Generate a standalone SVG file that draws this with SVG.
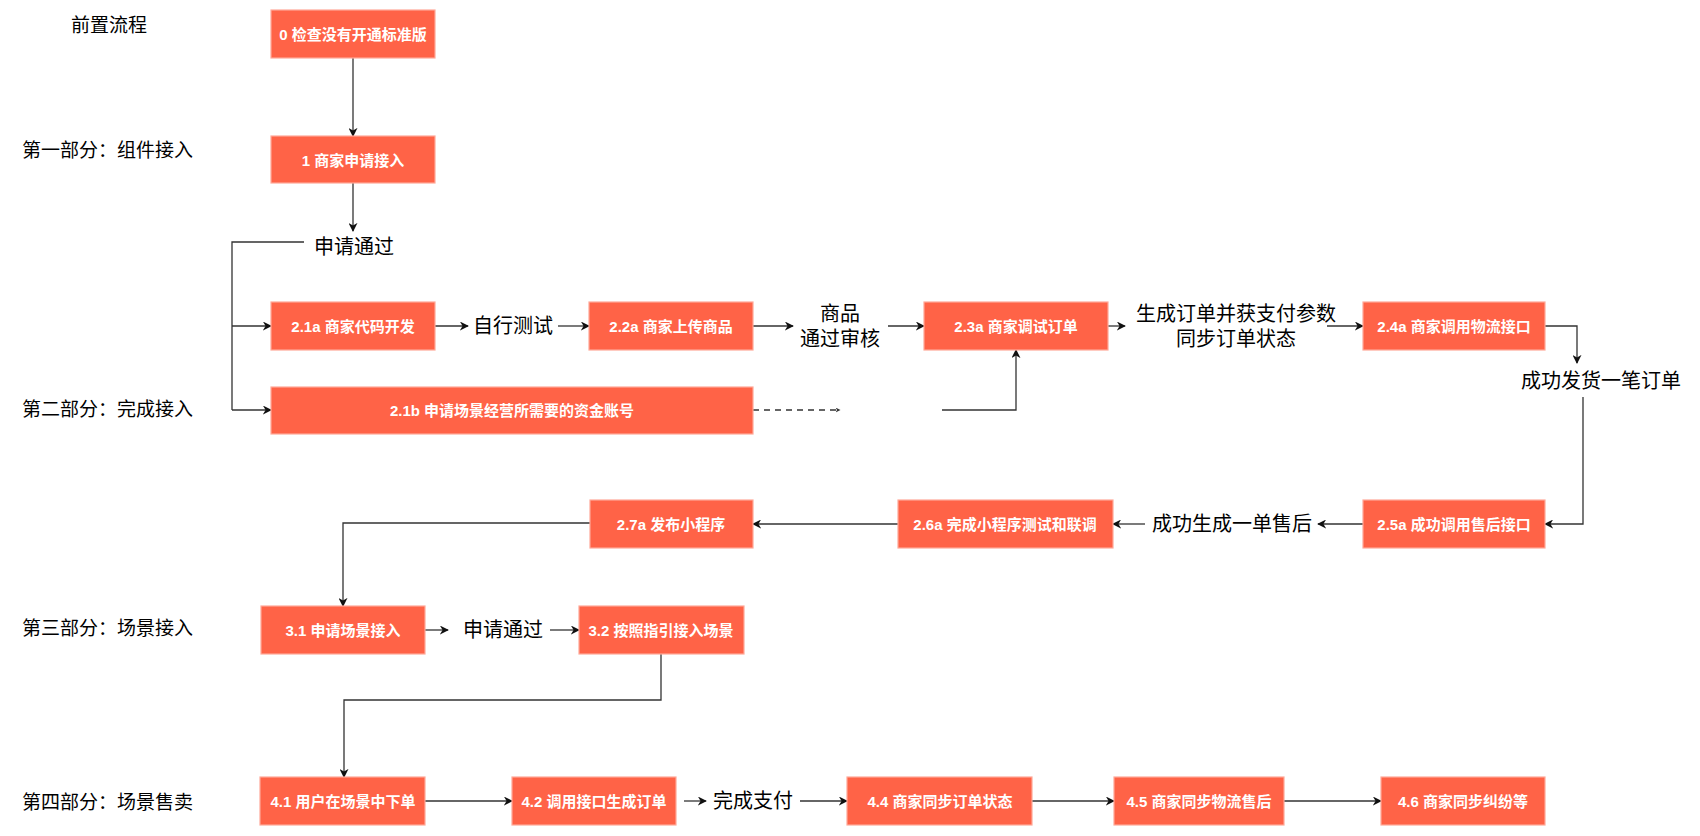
<svg xmlns="http://www.w3.org/2000/svg" width="1700" height="836" viewBox="0 0 1700 836">
<style>
.box{fill:#FF6347;stroke:#FFA898;stroke-width:1.2}
.bt{font-family:"Liberation Sans","Noto Sans CJK SC",sans-serif;font-size:15px;font-weight:bold;fill:#fff;text-anchor:middle;dominant-baseline:central}
.lt{font-family:"Liberation Sans","Noto Sans CJK SC",sans-serif;font-size:20px;fill:#000;text-anchor:middle;dominant-baseline:central}
.sec{font-family:"Liberation Sans","Noto Sans CJK SC",sans-serif;font-size:19px;fill:#000;dominant-baseline:central}
.c{fill:none;stroke:#333;stroke-width:1.3;marker-end:url(#ah)}
.cn{fill:none;stroke:#333;stroke-width:1.3}
.d{fill:none;stroke:#333;stroke-width:1.3;stroke-dasharray:6 5;marker-end:url(#sm)}
</style>
<defs>
<marker id="ah" viewBox="0 0 10 10" refX="9" refY="5" markerWidth="9" markerHeight="9" markerUnits="userSpaceOnUse" orient="auto">
<path d="M0,0 L10,5 L0,10 L3,5 z" fill="#111"/>
</marker>
<marker id="sm" viewBox="0 0 10 10" refX="9" refY="5" markerWidth="5" markerHeight="5" markerUnits="userSpaceOnUse" orient="auto">
<path d="M0,0 L10,5 L0,10 L3,5 z" fill="#333"/>
</marker>
</defs>
<rect width="1700" height="836" fill="#fff"/>

<g id="sections">
<text class="sec" x="109" y="25" text-anchor="middle">前置流程</text>
<text class="sec" x="22" y="150">第一部分：组件接入</text>
<text class="sec" x="22" y="409">第二部分：完成接入</text>
<text class="sec" x="22" y="628">第三部分：场景接入</text>
<text class="sec" x="22" y="802">第四部分：场景售卖</text>
</g>

<g id="connectors">
<path class="c" d="M353,58 L353,136"/>
<path class="c" d="M353,183 L353,231"/>
<path class="cn" d="M304,242 L232,242 L232,410"/>
<path class="c" d="M232,326 L271,326"/>
<path class="c" d="M232,410 L271,410"/>
<path class="c" d="M435,326 L468,326"/>
<path class="c" d="M558,326 L589,326"/>
<path class="c" d="M753,326 L793,326"/>
<path class="c" d="M888,326 L924,326"/>
<path class="c" d="M1108,326 L1125,326"/>
<path class="c" d="M1327,326 L1363,326"/>
<path class="c" d="M1545,326 L1577,326 L1577,363"/>
<path class="c" d="M1583,397 L1583,524 L1545,524"/>
<path class="c" d="M1363,524 L1318,524"/>
<path class="c" d="M1145,524 L1113,524"/>
<path class="c" d="M898,524 L753,524"/>
<path class="c" d="M590,523 L343,523 L343,606"/>
<path class="c" d="M425,630 L448,630"/>
<path class="c" d="M550,630 L579,630"/>
<path class="c" d="M661,654 L661,700 L344,700 L344,777"/>
<path class="c" d="M425,801 L512,801"/>
<path class="c" d="M684,801 L706,801"/>
<path class="c" d="M800,801 L847,801"/>
<path class="c" d="M1032,801 L1114,801"/>
<path class="c" d="M1284,801 L1381,801"/>
<path class="d" d="M753,410 L840,410"/>
<path class="c" d="M942,410 L1016,410 L1016,350"/>
</g>

<g id="n0"><rect class="box" x="271" y="10" width="164" height="48"/><text class="bt" x="353" y="34">0 检查没有开通标准版</text></g>
<g id="n1"><rect class="box" x="271" y="136" width="164" height="47"/><text class="bt" x="353" y="160">1 商家申请接入</text></g>
<g id="t-pass1"><text class="lt" x="354" y="247">申请通过</text></g>
<g id="n21a"><rect class="box" x="271" y="302" width="164" height="48"/><text class="bt" x="353" y="326">2.1a 商家代码开发</text></g>
<g id="t-selftest"><text class="lt" x="513" y="326">自行测试</text></g>
<g id="n22a"><rect class="box" x="589" y="302" width="164" height="48"/><text class="bt" x="671" y="326">2.2a 商家上传商品</text></g>
<g id="t-goods"><text class="lt" x="840" y="314">商品</text><text class="lt" x="840" y="339">通过审核</text></g>
<g id="n23a"><rect class="box" x="924" y="302" width="184" height="48"/><text class="bt" x="1016" y="326">2.3a 商家调试订单</text></g>
<g id="t-gen"><text class="lt" x="1236" y="314">生成订单并获支付参数</text><text class="lt" x="1236" y="339">同步订单状态</text></g>
<g id="n24a"><rect class="box" x="1363" y="302" width="182" height="48"/><text class="bt" x="1454" y="326">2.4a 商家调用物流接口</text></g>
<g id="t-ship"><text class="lt" x="1601" y="381">成功发货一笔订单</text></g>
<g id="n21b"><rect class="box" x="271" y="387" width="482" height="47"/><text class="bt" x="512" y="410">2.1b 申请场景经营所需要的资金账号</text></g>
<g id="n25a"><rect class="box" x="1363" y="500" width="182" height="48"/><text class="bt" x="1454" y="524">2.5a 成功调用售后接口</text></g>
<g id="t-after"><text class="lt" x="1232" y="524">成功生成一单售后</text></g>
<g id="n26a"><rect class="box" x="898" y="500" width="215" height="48"/><text class="bt" x="1005" y="524">2.6a 完成小程序测试和联调</text></g>
<g id="n27a"><rect class="box" x="590" y="500" width="163" height="48"/><text class="bt" x="671" y="524">2.7a 发布小程序</text></g>
<g id="n31"><rect class="box" x="261" y="606" width="164" height="48"/><text class="bt" x="343" y="630">3.1 申请场景接入</text></g>
<g id="t-pass2"><text class="lt" x="503" y="630">申请通过</text></g>
<g id="n32"><rect class="box" x="579" y="606" width="165" height="48"/><text class="bt" x="661" y="630">3.2 按照指引接入场景</text></g>
<g id="n41"><rect class="box" x="260" y="777" width="165" height="48"/><text class="bt" x="343" y="801">4.1 用户在场景中下单</text></g>
<g id="n42"><rect class="box" x="512" y="777" width="164" height="48"/><text class="bt" x="594" y="801">4.2 调用接口生成订单</text></g>
<g id="t-pay"><text class="lt" x="753" y="801">完成支付</text></g>
<g id="n44"><rect class="box" x="847" y="777" width="185" height="48"/><text class="bt" x="940" y="801">4.4 商家同步订单状态</text></g>
<g id="n45"><rect class="box" x="1114" y="777" width="170" height="48"/><text class="bt" x="1199" y="801">4.5 商家同步物流售后</text></g>
<g id="n46"><rect class="box" x="1381" y="777" width="164" height="48"/><text class="bt" x="1463" y="801">4.6 商家同步纠纷等</text></g>
</svg>
